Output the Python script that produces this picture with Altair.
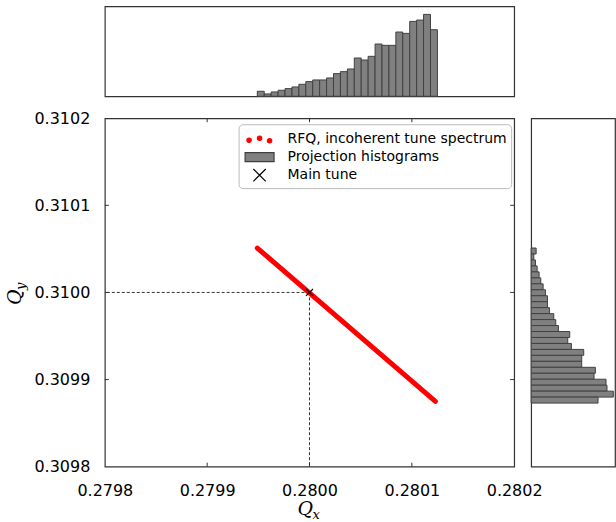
import altair as alt
import pandas as pd

# ---------------- data ----------------
x_ticks = [0.2798, 0.2799, 0.2800, 0.2801, 0.2802]
y_ticks = [0.3098, 0.3099, 0.3100, 0.3101, 0.3102]
x_inner_ticks = [0.2799, 0.2800, 0.2801]
y_inner_ticks = [0.3099, 0.3100, 0.3101]

# RFQ incoherent tune spectrum: dense points forming a straight band (end points)
rfq_qx = [0.279949, 0.280123]
rfq_qy = [0.310051, 0.309875]

# main tune
main_qx = [0.2800]
main_qy = [0.3100]

# Qx projection histogram (low Qx -> high Qx)
qx_bin_lo = 0.279949
qx_bin_hi = 0.280125
qx_counts = [15, 7, 13, 18, 23, 28, 36, 44, 49, 49, 55, 68, 74, 82, 115, 109,
             120, 157, 153, 153, 193, 189, 225, 229, 246, 200]

# Qy projection histogram (high Qy -> low Qy)
qy_bin_hi = 0.310051
qy_bin_lo = 0.309873
qy_counts = [15, 8, 13, 18, 24, 29, 36, 43, 49, 49, 55, 68, 74, 82, 116, 110,
             121, 158, 152, 152, 193, 189, 225, 228, 247, 201]

legend_labels = ["RFQ, incoherent tune spectrum", "Projection histograms", "Main tune"]

# ---------------- tables ----------------
n = len(qx_counts)
qx_w = (qx_bin_hi - qx_bin_lo) / n
hx = pd.DataFrame({
    "lo": [qx_bin_lo + i * qx_w for i in range(n)],
    "hi": [qx_bin_lo + (i + 1) * qx_w for i in range(n)],
    "c": qx_counts,
})
m = len(qy_counts)
qy_w = (qy_bin_hi - qy_bin_lo) / m
hy = pd.DataFrame({
    "hi": [qy_bin_hi - i * qy_w for i in range(m)],
    "lo": [qy_bin_hi - (i + 1) * qy_w for i in range(m)],
    "c": qy_counts,
})
rfq = pd.DataFrame({"qx": rfq_qx, "qy": rfq_qy})
tune = pd.DataFrame({"qx": main_qx, "qy": main_qy})
xt = pd.DataFrame({"v": x_inner_ticks})
yt = pd.DataFrame({"v": y_inner_ticks})
leg = pd.DataFrame({"lab": legend_labels, "qx": [0.2790] * 3, "qy": [0.3090] * 3})
one = pd.DataFrame({"a": [0]})

XDOM = [0.2798, 0.2802]
YDOM = [0.3098, 0.3102]
W, H = 410, 349
TOPH = 90
RW = 84
FRAME = "#333333"
FONT = "DejaVu Sans"

xs = alt.Scale(domain=XDOM, nice=False, zero=False)
ys = alt.Scale(domain=YDOM, nice=False, zero=False)

x_axis = alt.Axis(values=x_ticks, format=".4f", labelFontSize=16, labelFont=FONT,
                  labelColor="black", ticks=False, domain=False, grid=False,
                  labelPadding=16, labelFlush=False, labelOverlap=False, title=None)
y_axis = alt.Axis(values=y_ticks, format=".4f", labelFontSize=16, labelFont=FONT,
                  labelColor="black", ticks=False, domain=False, grid=False,
                  labelPadding=15, labelFlush=False, labelOverlap=False, title=None)

# ---------------- main panel ----------------
hdash = alt.Chart(tune).mark_rule(color=FRAME, strokeWidth=1, strokeDash=[3, 2]).encode(
    x=alt.X("qx:Q", scale=xs, axis=x_axis), x2=alt.datum(XDOM[0]),
    y=alt.Y("qy:Q", scale=ys, axis=y_axis))
vdash = alt.Chart(tune).mark_rule(color=FRAME, strokeWidth=1, strokeDash=[3, 2]).encode(
    x="qx:Q", y="qy:Q", y2=alt.datum(YDOM[0]))

line = alt.Chart(rfq).mark_line(color="red", strokeWidth=5, strokeCap="round").encode(
    x="qx:Q", y="qy:Q")

xmark = "M-1,-1L1,1M-1,1L1,-1"
tpt = alt.Chart(tune).mark_point(shape=xmark, size=49, color="black", filled=False,
                                 strokeWidth=1.2, opacity=1).encode(x="qx:Q", y="qy:Q")

dots_path = ("M-1.27,0.1a0.22,0.22 0 1,0 0.44,0a0.22,0.22 0 1,0 -0.44,0"
             "M-0.22,-0.1a0.22,0.22 0 1,0 0.44,0a0.22,0.22 0 1,0 -0.44,0"
             "M0.78,0.15a0.22,0.22 0 1,0 0.44,0a0.22,0.22 0 1,0 -0.44,0")
rect_path = "M-1.45,-0.45H1.45V0.45H-1.45Z"
x_path = "M-0.62,-0.62L0.62,0.62M-0.62,0.62L0.62,-0.62"

legend = alt.Legend(title=None, orient="none", legendX=134, legendY=118,
                    labelFontSize=14, labelFont=FONT, labelColor="black", labelLimit=400,
                    symbolSize=400, symbolStrokeWidth=1.2, symbolOffset=6, labelOffset=17,
                    rowPadding=0, padding=4, strokeColor="#bbbbbb", cornerRadius=4,
                    fillColor="white")
legend_layer = alt.Chart(leg).mark_point(filled=True, clip=True, opacity=1).encode(
    x="qx:Q", y="qy:Q",
    shape=alt.Shape("lab:N", scale=alt.Scale(domain=legend_labels,
                                             range=[dots_path, rect_path, x_path]), legend=legend),
    fill=alt.Fill("lab:N", scale=alt.Scale(domain=legend_labels,
                                           range=["red", "#808080", "black"]), legend=legend),
    stroke=alt.Stroke("lab:N", scale=alt.Scale(domain=legend_labels,
                                               range=["red", "#404040", "black"]), legend=legend),
)

tick_b = alt.Chart(xt).mark_rule(color=FRAME, strokeWidth=1).encode(
    x="v:Q", y=alt.value(H), y2=alt.value(H - 4))
tick_t = alt.Chart(xt).mark_rule(color=FRAME, strokeWidth=1).encode(
    x="v:Q", y=alt.value(0), y2=alt.value(4))
tick_l = alt.Chart(yt).mark_rule(color=FRAME, strokeWidth=1).encode(
    y="v:Q", x=alt.value(0), x2=alt.value(4))
tick_r = alt.Chart(yt).mark_rule(color=FRAME, strokeWidth=1).encode(
    y="v:Q", x=alt.value(W), x2=alt.value(W - 4))

serif = "DejaVu Serif"
qx_t = alt.Chart(one).mark_text(text="Q", font=serif, fontStyle="italic", fontSize=19,
                                align="left", baseline="alphabetic", color="black").encode(
    x=alt.value(193), y=alt.value(H + 48))
qx_s = alt.Chart(one).mark_text(text="x", font=serif, fontStyle="italic", fontSize=13,
                                align="left", baseline="alphabetic", color="black").encode(
    x=alt.value(208), y=alt.value(H + 52))
qy_t = alt.Chart(one).mark_text(text="Q", font=serif, fontStyle="italic", fontSize=19,
                                align="left", baseline="alphabetic", angle=270,
                                color="black").encode(x=alt.value(-84), y=alt.value(187))
qy_s = alt.Chart(one).mark_text(text="y", font=serif, fontStyle="italic", fontSize=13,
                                align="left", baseline="alphabetic", angle=270,
                                color="black").encode(x=alt.value(-80), y=alt.value(172))

main = alt.layer(hdash, vdash, line, tpt, legend_layer, tick_b, tick_t, tick_l, tick_r,
                 qx_t, qx_s, qy_t, qy_s).properties(width=W, height=H)

# ---------------- top histogram ----------------
top = alt.Chart(hx).mark_bar(color="#808080", stroke="#404040", strokeWidth=1).encode(
    x=alt.X("lo:Q", scale=xs, axis=None), x2="hi:Q",
    y=alt.Y("c:Q", scale=alt.Scale(domain=[0, 270], nice=False), axis=None),
    y2=alt.datum(0),
).properties(width=W, height=TOPH)

# ---------------- right histogram ----------------
right = alt.Chart(hy).mark_bar(color="#808080", stroke="#404040", strokeWidth=1).encode(
    y=alt.Y("lo:Q", scale=ys, axis=None), y2="hi:Q",
    x=alt.X("c:Q", scale=alt.Scale(domain=[0, 3 * RW], nice=False), axis=None),
    x2=alt.datum(0),
).properties(width=RW, height=H)

blank = alt.Chart(one).mark_point(opacity=0).encode(
    x=alt.X("a:Q", axis=None), y=alt.Y("a:Q", axis=None)
).properties(width=RW, height=TOPH, view=alt.ViewBackground(stroke="transparent"))

chart = alt.concat(top, blank, main, right, columns=2,
                   spacing={"row": 22, "column": 17}, bounds="flush").properties(
    padding={"left": 5, "top": 5, "right": 0, "bottom": 2},
    background="white",
).configure_view(stroke=FRAME, strokeWidth=1.2)

chart.save("out.html", embed_options={"renderer": "svg", "actions": False})
